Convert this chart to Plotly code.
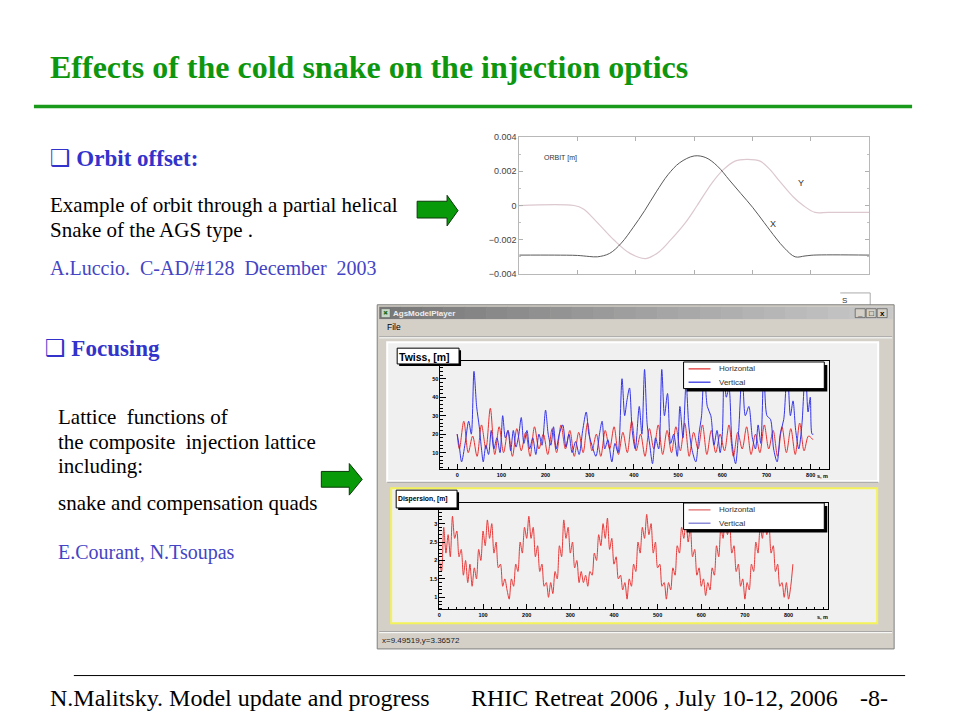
import plotly.graph_objects as go

# ---------------- data ----------------
# Orbit through the partial helical snake (arbitrary s units 0..6), orbit in m
orbit_x_pts = [(0, -0.0029), (0.6, -0.0029), (1.0, -0.00292), (1.2, -0.00298), (1.34, -0.0030),
               (1.55, -0.0028), (1.75, -0.0022), (1.95, -0.0013), (2.15, -0.0003), (2.35, 0.0008),
               (2.55, 0.0018), (2.75, 0.0025), (3.0, 0.0029), (3.2, 0.0028), (3.4, 0.0023),
               (3.6, 0.0015), (3.8, 0.0007), (4.0, -0.0001), (4.2, -0.0010), (4.4, -0.0019),
               (4.55, -0.0025), (4.73, -0.0030), (4.9, -0.00295), (5.05, -0.0029), (6.0, -0.0029)]
orbit_y_pts = [(0, 0.0), (0.94, 0.0), (1.1, -0.0002), (1.34, -0.0010), (1.62, -0.0020),
               (1.9, -0.0028), (2.17, -0.0031), (2.4, -0.0027), (2.6, -0.0020), (2.85, -0.0010),
               (3.05, 0.0), (3.3, 0.0013), (3.5, 0.0021), (3.7, 0.0026), (3.9, 0.0027),
               (4.13, 0.0026), (4.3, 0.0021), (4.47, 0.0014), (4.7, 0.0005), (4.87, 0.0),
               (5.07, -0.0004), (5.3, -0.0004), (6.0, -0.0004)]

# Twiss (beta) functions, m, versus s, m
twiss_h_s = [0] + list(range(5, 806, 10))
twiss_h = [20, 12, 27, 10, 19, 8, 25, 12, 34, 9,
           24, 10, 22, 8, 23, 11, 21, 8, 24, 12,
           20, 9, 23, 10, 25, 12, 22, 8, 21, 10,
           26, 11, 20, 8, 22, 12, 24, 9, 21, 10,
           27, 11, 20, 8, 23, 12, 25, 9, 22, 10,
           24, 11, 26, 8, 21, 12, 25, 9, 22, 10,
           20, 11, 25, 8, 21, 12, 24, 9, 20, 10,
           25, 12, 22, 8, 24, 10, 23, 9, 26, 11,
           19, 17]
twiss_v_pts = [(0, 20), (5, 13), (10, 5), (18, 15), (26, 27), (32, 20), (38, 54), (44, 35), (50, 24),
               (55, 12), (59, 5), (65, 14), (71, 9), (77, 22), (83, 12), (90, 18), (97, 10), (103, 30),
               (109, 18), (115, 22), (121, 11), (127, 22), (133, 13), (139, 19), (145, 29), (151, 15),
               (158, 22), (164, 12), (171, 18), (178, 9), (185, 20), (192, 14), (200, 33), (206, 20),
               (212, 14), (218, 24), (224, 12), (231, 20), (239, 25), (246, 13), (253, 20), (260, 10),
               (268, 16), (276, 9), (284, 22), (292, 32), (298, 20), (305, 14), (314, 8), (322, 20),
               (328, 27), (334, 12), (341, 17), (350, 5), (357, 15), (364, 10), (373, 50), (379, 30),
               (384, 38), (390, 45), (396, 22), (403, 12), (412, 35), (418, 20), (424, 55), (430, 25),
               (436, 14), (442, 4), (449, 18), (456, 12), (463, 55), (469, 30), (476, 42), (483, 15),
               (490, 20), (498, 8), (504, 35), (511, 18), (518, 48), (524, 25), (531, 12), (540, 5),
               (547, 20), (553, 30), (559, 56), (566, 35), (574, 30), (581, 14), (588, 22), (595, 10),
               (600, 20), (604, 55), (609, 40), (615, 45), (622, 15), (630, 4), (637, 22), (645, 55),
               (652, 30), (660, 35), (668, 18), (675, 12), (681, 25), (687, 15), (694, 56), (701, 30),
               (709, 28), (716, 12), (724, 5), (731, 20), (739, 28), (747, 57), (754, 30), (760, 38),
               (766, 22), (773, 12), (780, 25), (788, 56), (794, 32), (799, 40), (803, 20), (806, 20)]

# Horizontal dispersion, m, every 5 m of s
disp_s = list(range(0, 811, 5))
disp_h = [2.0, 1.7, 2.9, 2.2, 2.7, 2.1, 3.2, 2.6, 2.8, 2.1,
          2.3, 1.6, 2.0, 1.4, 1.9, 1.3, 1.8, 1.5, 2.3, 2.0,
          2.8, 2.4, 3.1, 2.6, 3.0, 2.2, 2.5, 1.8, 1.9, 1.3,
          1.5, 1.2, 0.95, 1.5, 1.3, 1.9, 1.7, 2.5, 2.2, 2.9,
          2.6, 3.2, 2.6, 2.9, 2.1, 2.4, 1.7, 1.9, 1.3, 1.4,
          1.0, 1.4, 1.1, 1.7, 1.5, 2.4, 2.1, 3.1, 2.6, 2.9,
          2.2, 2.5, 1.8, 2.0, 1.4, 1.7, 1.4, 1.6, 1.3, 1.7,
          1.6, 2.2, 2.0, 2.7, 2.4, 3.0, 2.6, 3.15, 2.3, 2.6,
          1.9, 2.1, 1.5, 1.6, 1.2, 1.4, 0.95, 1.5, 1.3, 1.9,
          1.7, 2.5, 2.2, 2.9, 2.6, 3.25, 2.7, 3.0, 2.2, 2.5,
          1.8, 1.9, 1.3, 1.4, 0.95, 1.4, 1.2, 1.8, 1.6, 2.4,
          2.2, 2.9, 2.6, 3.1, 2.5, 2.9, 2.1, 2.3, 1.6, 1.8,
          1.3, 1.5, 1.05, 1.4, 1.2, 1.8, 1.6, 2.4, 2.1, 2.9,
          2.6, 3.2, 2.7, 3.0, 2.2, 2.4, 1.7, 1.9, 1.3, 1.5,
          0.95, 1.4, 1.2, 1.9, 1.7, 2.5, 2.2, 2.9, 2.6, 3.2,
          2.7, 3.0, 2.2, 2.4, 1.7, 1.9, 1.3, 1.4, 1.0, 1.4,
          0.95, 1.3, 1.9]

orbit_ticks = [-0.004, -0.002, 0, 0.002, 0.004]
orbit_tick_text = ["\u22120.004", "\u22120.002", "0", "0.002", "0.004"]
twiss_yticks = [10, 20, 30, 40, 50]
s_ticks = [0, 100, 200, 300, 400, 500, 600, 700, 800]
disp_yticks = [1, 1.5, 2, 2.5, 3]

# ---------------- helpers ----------------
W, H = 960, 720
def X(px):
    return px / W
def Y(py):
    return 1 - py / H

SERIF = "Liberation Serif, Times New Roman, DejaVu Sans"
SANS = "Liberation Sans, Arial, DejaVu Sans"

shapes = []
annotations = []

def rect(x0, y0, x1, y1, fill=None, line=None, lw=1, layer="below"):
    shapes.append(dict(type="rect", xref="paper", yref="paper",
                       x0=X(x0), x1=X(x1), y0=Y(y1), y1=Y(y0),
                       fillcolor=fill if fill else "rgba(0,0,0,0)",
                       line=dict(color=line if line else "rgba(0,0,0,0)", width=lw if line else 0),
                       layer=layer))

def hline(x0, x1, y, color, w=1, layer="below"):
    shapes.append(dict(type="line", xref="paper", yref="paper", x0=X(x0), x1=X(x1),
                       y0=Y(y), y1=Y(y), line=dict(color=color, width=w), layer=layer))

def vline(x, y0, y1, color, w=1, layer="below"):
    shapes.append(dict(type="line", xref="paper", yref="paper", x0=X(x), x1=X(x),
                       y0=Y(y0), y1=Y(y1), line=dict(color=color, width=w), layer=layer))

def text(px, py, s, size, color="black", family=SERIF, bold=False, anchor="left", dx=-4):
    if anchor == "left":
        px = px + dx
    annotations.append(dict(xref="paper", yref="paper", x=X(px), y=Y(py), text=s,
                            showarrow=False, xanchor=anchor, yanchor="middle",
                            font=dict(size=size, color=color, family=family,
                                      weight="bold" if bold else "normal")))

def arrow(x0, x1, xh, by0, by1, hy0, hy1):
    ym = (hy0 + hy1) / 2
    pts = [(x0, by0), (x1, by0), (x1, hy0), (xh, ym), (x1, hy1), (x1, by1), (x0, by1)]
    path = "M " + " L ".join(f"{X(a):.5f},{Y(b):.5f}" for a, b in pts) + " Z"
    shapes.append(dict(type="path", xref="paper", yref="paper", path=path,
                       fillcolor="#089a08", line=dict(color="#0a3a0a", width=1), layer="above"))

# ---------------- slide text ----------------
text(50, 63, "Effects of the cold snake on the injection optics", 32, "#0f960f", bold=True)
hline(32, 912, 103, "#1a9a1a", 3.5)
BLUE = "#3333cc"
LBLUE = "#4444c4"
text(50, 156, "\u2751 Orbit offset:", 23, BLUE, bold=True)
text(50, 203, "Example of orbit through a partial helical", 21)
text(50, 228, "Snake of the AGS type .", 21)
text(50, 267, "A.Luccio.\u00a0 C-AD/#128\u00a0 December\u00a0 2003", 20, LBLUE)
arrow(416, 446, 457, 199, 216, 193, 224)

text(45, 348, "\u2751 Focusing", 23, BLUE, bold=True)
text(58, 418, "Lattice\u00a0 functions of", 21)
text(58, 443, "the composite\u00a0 injection lattice", 21)
text(58, 467, "including:", 21)
text(58, 505, "snake and compensation quads", 21)
text(58, 555, "E.Courant, N.Tsoupas", 20, LBLUE)
arrow(320, 348, 361, 473, 489, 465, 497)

hline(72, 905, 680, "black", 1)
text(50, 703, "N.Malitsky. Model update and progress", 24)
text(472, 703, "RHIC Retreat 2006 , July 10-12, 2006", 24)
text(862, 703, "-8-", 24)

# ---------------- orbit plot decorations ----------------
text(543, 155, "ORBIT [m]", 7, "#333", SANS, dx=-2)
text(798, 181, "Y", 9, "#333", SANS, dx=-2)
text(770, 222, "X", 9, "#333", SANS, dx=-2)
hline(840, 870, 292, "#aaaaaa", 1)
vline(870, 292, 306, "#aaaaaa", 1)
text(842, 300, "S", 8, "#333", SANS, dx=-2)

# ---------------- application window ----------------
rect(376, 304, 894, 653, fill="#d4d0c8", line="#808080", lw=1)
# title bar gradient
n = 24
for i in range(n):
    a = 378 + (892 - 378) * i / n
    b = 378 + (892 - 378) * (i + 1) / n + 0.5
    g = int(120 + (200 - 120) * i / (n - 1))
    rect(a, 306, b, 318.5, fill=f"rgb({g},{g},{g})")
rect(380, 308, 389, 317, fill="#c8d8c8", line="#505050", lw=0.5)
text(381, 312.5, "\u2716", 6, "#207020", SANS, dx=-1)
text(392, 312.5, "AgsModelPlayer", 8, "#eeeeee", SANS, bold=True, dx=-2)
for bx, sym in [(855, "_"), (866, "\u25a1"), (877, "x")]:
    rect(bx, 308, bx + 10, 317, fill="#d4d0c8", line="#404040", lw=0.6)
    text(bx + 5, 312.5, sym, 8, "black", SANS, bold=True, anchor="center")
text(386, 327, "File", 8.5, "black", SANS, dx=-2)
hline(378, 892, 336.5, "#a0a0a0", 1)
hline(378, 892, 337.5, "#ffffff", 1)

# twiss canvas panel
rect(386, 342, 878, 483, fill="#f0f0f0", line="#ffffff", lw=2)
hline(386, 878, 484, "#a0a0a0", 1)
# dispersion canvas panel
rect(390, 490, 877, 627, fill="#f0f0f0", line="#f4f25a", lw=2)
# status bar
hline(378, 892, 635.5, "#a0a0a0", 1)
hline(378, 892, 636.5, "#ffffff", 1)
text(381, 644, "x=9.49519,y=3.36572", 8, "#222", SANS, dx=-2)

# title boxes and legends (above traces)
def boxed(x0, y0, x1, y1, sh=3):
    rect(x0 + sh, y0 + sh, x1 + sh, y1 + sh, fill="black", layer="above")
    rect(x0, y0, x1, y1, fill="white", line="black", lw=1, layer="above")

boxed(396, 348, 458, 364, sh=2)
text(398, 356.5, "Twiss, [m]", 10.5, "black", SANS, bold=True, dx=-2)
boxed(395, 492, 456, 510, sh=2)
text(396, 501, "Dispersion, [m]", 6.8, "black", SANS, bold=True, dx=-1.5)

for ly, ca, cb in [(362, "#e02828", "#2828e0"), (505, "#e06464", "#7070d0")]:
    boxed(683, ly, 824, ly + 27, sh=3)
    shapes.append(dict(type="line", xref="paper", yref="paper", x0=X(688), x1=X(710),
                       y0=Y(ly + 7), y1=Y(ly + 7), line=dict(color=ca, width=1.2), layer="above"))
    shapes.append(dict(type="line", xref="paper", yref="paper", x0=X(688), x1=X(710),
                       y0=Y(ly + 20.5), y1=Y(ly + 20.5), line=dict(color=cb, width=1.2), layer="above"))
    text(718, ly + 7, "Horizontal", 8, "#333", SANS, dx=-2)
    text(718, ly + 20.5, "Vertical", 8, "#333", SANS, dx=-2)

text(822, 478, "s, m", 5.5, "black", SANS, bold=True, anchor="center")
text(822, 621, "s, m", 5.5, "black", SANS, bold=True, anchor="center")

# ---------------- traces ----------------
fig = go.Figure()
ox, oy = zip(*orbit_x_pts)
yx, yy = zip(*orbit_y_pts)
fig.add_trace(go.Scatter(x=yx, y=yy, mode="lines", line=dict(color="#dcc8ce", width=1.2, shape="spline"),
                         xaxis="x", yaxis="y", hoverinfo="skip"))
fig.add_trace(go.Scatter(x=ox, y=oy, mode="lines", line=dict(color="#5a5a5a", width=1, shape="spline"),
                         xaxis="x", yaxis="y", hoverinfo="skip"))

vs, vv = zip(*twiss_v_pts)
fig.add_trace(go.Scatter(x=twiss_h_s, y=twiss_h, mode="lines",
                         line=dict(color="#e83030", width=1, shape="spline", smoothing=0.9),
                         xaxis="x2", yaxis="y2", hoverinfo="skip"))
fig.add_trace(go.Scatter(x=vs, y=vv, mode="lines",
                         line=dict(color="#3434e8", width=1, shape="spline", smoothing=0.8),
                         xaxis="x2", yaxis="y2", hoverinfo="skip"))
fig.add_trace(go.Scatter(x=disp_s, y=disp_h, mode="lines",
                         line=dict(color="#e83a3a", width=1, shape="spline", smoothing=0.8),
                         xaxis="x3", yaxis="y3", hoverinfo="skip"))

tickf_small = dict(size=5.5, color="black", family=SANS, weight="bold")

fig.update_layout(
    width=W, height=H, margin=dict(l=0, r=0, t=0, b=0),
    paper_bgcolor="white", plot_bgcolor="rgba(0,0,0,0)", showlegend=False,
    shapes=shapes, annotations=annotations,
    xaxis=dict(domain=[X(518.3), X(869)], range=[0, 6], anchor="y",
               showticklabels=False, tickvals=[0, 1, 2, 3, 4, 5, 6], ticks="inside", ticklen=4,
               tickcolor="#b0b0b0", showline=True, linecolor="#b8b8b8", linewidth=1, mirror="ticks",
               showgrid=False, zeroline=False, fixedrange=True),
    yaxis=dict(domain=[Y(272.7), Y(134)], range=[-0.004, 0.004], anchor="x",
               tickvals=orbit_ticks, ticktext=orbit_tick_text, ticks="inside", ticklen=4,
               tickcolor="#b0b0b0", tickfont=dict(size=9, color="#444", family=SANS),
               minor=dict(dtick=0.001, ticks="inside", ticklen=2, tickcolor="#c0c0c0"),
               showline=True, linecolor="#b8b8b8", linewidth=1, mirror="ticks",
               showgrid=False, zeroline=False, fixedrange=True),
    xaxis2=dict(domain=[X(439.3), X(829)], range=[-38, 842], anchor="y2",
                tickvals=s_ticks, ticks="inside", ticklen=5, tickcolor="black", tickfont=tickf_small,
                minor=dict(dtick=20, ticks="inside", ticklen=2.5, tickcolor="black"),
                showline=True, linecolor="black", linewidth=1, mirror=True,
                showgrid=False, zeroline=False, fixedrange=True),
    yaxis2=dict(domain=[Y(471), Y(361)], range=[0.9, 59.6], anchor="x2",
                tickvals=twiss_yticks, ticks="inside", ticklen=6, tickcolor="black", tickfont=tickf_small,
                minor=dict(dtick=2, ticks="inside", ticklen=3, tickcolor="black"),
                showline=True, linecolor="black", linewidth=1, mirror=True,
                showgrid=False, zeroline=False, fixedrange=True),
    xaxis3=dict(domain=[X(438.3), X(828)], range=[0, 891], anchor="y3",
                tickvals=s_ticks, ticks="inside", ticklen=5, tickcolor="black", tickfont=tickf_small,
                minor=dict(dtick=20, ticks="inside", ticklen=2.5, tickcolor="black"),
                showline=True, linecolor="black", linewidth=1, mirror=True,
                showgrid=False, zeroline=False, fixedrange=True),
    yaxis3=dict(domain=[Y(613), Y(505)], range=[0.67, 3.56], anchor="x3",
                tickvals=disp_yticks, ticks="inside", ticklen=6, tickcolor="black", tickfont=tickf_small,
                minor=dict(dtick=0.1, ticks="inside", ticklen=3, tickcolor="black"),
                showline=True, linecolor="black", linewidth=1, mirror=True,
                showgrid=False, zeroline=False, fixedrange=True),
)

fig.write_html("out.html", config={"displayModeBar": False},
               post_script="document.body.style.margin='0';")
